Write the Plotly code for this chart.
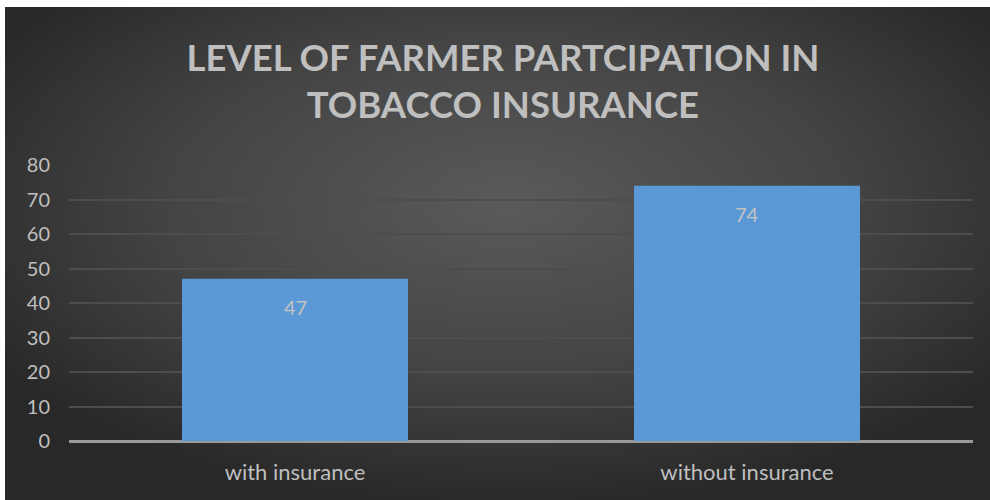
import plotly.graph_objects as go
import base64

categories = ["with insurance", "without insurance"]
values = [47, 74]
y_ticks = [0, 10, 20, 30, 40, 50, 60, 70, 80]

W, H = 990, 500
ML, MR, MT, MB = 69, 17, 165, 59

svg = f'''<svg xmlns="http://www.w3.org/2000/svg" width="{W}" height="{H}" viewBox="0 0 {W} {H}">
<defs><radialGradient id="g" cx="0.51" cy="0.40" r="0.62" gradientUnits="objectBoundingBox">
<stop offset="0" stop-color="#5a5a5a"/><stop offset="0.55" stop-color="#444444"/><stop offset="1" stop-color="#282828"/>
</radialGradient></defs>
<rect x="0" y="0" width="{W}" height="{H}" fill="#ffffff"/>
<rect x="5" y="7" width="{W-5}" height="{H-7}" fill="url(#g)"/>
</svg>'''
src = "data:image/svg+xml;base64," + base64.b64encode(svg.encode()).decode()

pw = W - ML - MR
ph = H - MT - MB

fig = go.Figure()
fig.add_trace(go.Bar(
    x=categories, y=values,
    marker=dict(color="#5a99d6", line=dict(width=0)),
    width=0.5,
    hoverinfo="skip",
))

for c, v in zip(categories, values):
    fig.add_annotation(x=c, y=v, text=str(v), showarrow=False, yshift=-28,
                       font=dict(family="Lato, Open Sans, sans-serif", size=20, color="#c3c3c3"))

fig.update_layout(
    width=W, height=H,
    margin=dict(l=ML, r=MR, t=MT, b=MB, pad=0),
    paper_bgcolor="#ffffff",
    plot_bgcolor="rgba(0,0,0,0)",
    showlegend=False,
    images=[dict(source=src, xref="paper", yref="paper",
                 x=-ML / pw, y=1 + MT / ph, sizex=W / pw, sizey=H / ph,
                 xanchor="left", yanchor="top", sizing="stretch", layer="below")],
    title=dict(text="LEVEL OF FARMER PARTCIPATION IN<br>TOBACCO INSURANCE",
               x=0.508, xanchor="center", xref="container",
               y=1 - 71 / H, yanchor="middle", yref="container",
               font=dict(family="Lato, sans-serif", size=36.5, color="#bfbfbf", weight="bold")),
    xaxis=dict(showgrid=False, showline=False, zeroline=False, ticks="",
               tickfont=dict(family="Lato, Open Sans, sans-serif", size=22, color="#bfbfbf"),
               ticklabelstandoff=16),
    yaxis=dict(range=[0, 80], tickvals=y_ticks, showgrid=True, gridcolor="#4d4d4d", gridwidth=1.5,
               zeroline=True, zerolinecolor="#9a9a9a", zerolinewidth=2.5, showline=False,
               tickfont=dict(family="Lato, Open Sans, sans-serif", size=20, color="#bfbfbf"),
               ticklabelstandoff=18),
    bargap=0.5,
)

fig.write_html("out.html")
